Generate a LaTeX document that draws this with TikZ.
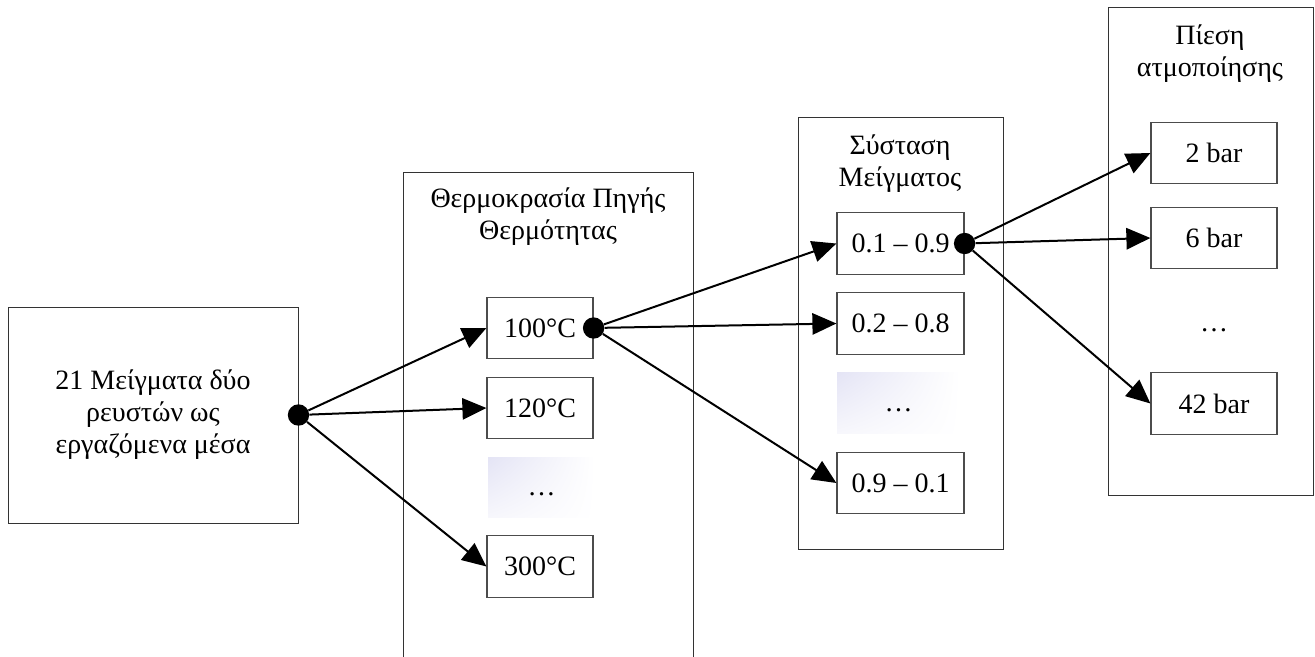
\documentclass[tikz,border=0pt]{standalone}
\usepackage{fontspec}
\setmainfont{Liberation Serif}
\usetikzlibrary{arrows.meta,shadings}
\definecolor{haze}{RGB}{228,228,245}
\begin{document}
\begin{tikzpicture}[x=0.75pt,y=-0.75pt,
    every node/.style={font=\fontsize{21}{24}\selectfont},
    groupbox/.style={draw=black!80,line width=0.75pt,inner sep=0pt},
    valbox/.style={draw=black!70,line width=0.9pt,inner sep=0pt,minimum height=46pt},
    dotsbox/.style={shade,upper left=haze,upper right=white,lower left=haze!30,lower right=white,
      inner sep=0pt,minimum height=45.5pt,text height=14pt,text depth=2pt},
    joint/.style={circle,fill=black,inner sep=0pt,minimum size=16pt},
    link/.style={line width=1.5pt,-{Triangle[length=18pt,width=16pt]}}]
  \path[use as bounding box,clip] (0,0) rectangle (1315,657);
  \node[groupbox,minimum width=217.5pt,minimum height=162pt,align=center] (mix) at (153,415)
    {21 Μείγματα δύο\\ρευστών ως\\εργαζόμενα μέσα};
  \node[groupbox,minimum width=217.5pt,minimum height=388.5pt] (fTemp) at (548,431) {};
  \node[groupbox,minimum width=153.75pt,minimum height=324pt] (fComp) at (900.5,333) {};
  \node[groupbox,minimum width=153.75pt,minimum height=366pt] (fPres) at (1210.5,251) {};
  \node[align=center] (lTemp) at (548,217) {Θερμοκρασία Πηγής\\Θερμότητας};
  \node[align=center] (lComp) at (900,164) {Σύσταση\\Μείγματος};
  \node[align=center] (lPres) at (1210,54) {Πίεση\\ατμοποίησης};
  \node[valbox,minimum width=79.5pt] (t100) at (540,328) {100°C};
  \node[valbox,minimum width=79.5pt] (t120) at (540,408) {120°C};
  \node[dotsbox,minimum width=80pt] (tDots) at (541.5,487.5) {…};
  \node[valbox,minimum width=79.5pt] (t300) at (540,566.5) {300°C};
  \node[valbox,minimum width=95.25pt] (c19) at (900.5,243.5) {0.1 – 0.9};
  \node[valbox,minimum width=95.25pt] (c28) at (900.5,323.5) {0.2 – 0.8};
  \node[dotsbox,minimum width=92pt] (cDots) at (898.5,403) {…};
  \node[valbox,minimum width=95.25pt] (c91) at (900.5,483) {0.9 – 0.1};
  \node[valbox,minimum width=94.5pt] (p2) at (1214,153) {2 bar};
  \node[valbox,minimum width=94.5pt] (p6) at (1214,238) {6 bar};
  \node[text height=14pt,text depth=2pt] (pDots) at (1214,323) {…};
  \node[valbox,minimum width=94.5pt] (p42) at (1214,403.5) {42 bar};
  \node[joint] (jMix) at (mix.east) {};
  \node[joint] (jTemp) at (t100.east) {};
  \node[joint] (jComp) at (c19.east) {};
  \draw[link] (jMix) -- (t100.west);
  \draw[link] (jMix) -- (t120.west);
  \draw[link] (jMix) -- (t300.west);
  \draw[link] (jTemp) -- (c19.west);
  \draw[link] (jTemp) -- (c28.west);
  \draw[link] (jTemp) -- (c91.west);
  \draw[link] (jComp) -- (p2.west);
  \draw[link] (jComp) -- (p6.west);
  \draw[link] (jComp) -- (p42.west);
\end{tikzpicture}
\end{document}
